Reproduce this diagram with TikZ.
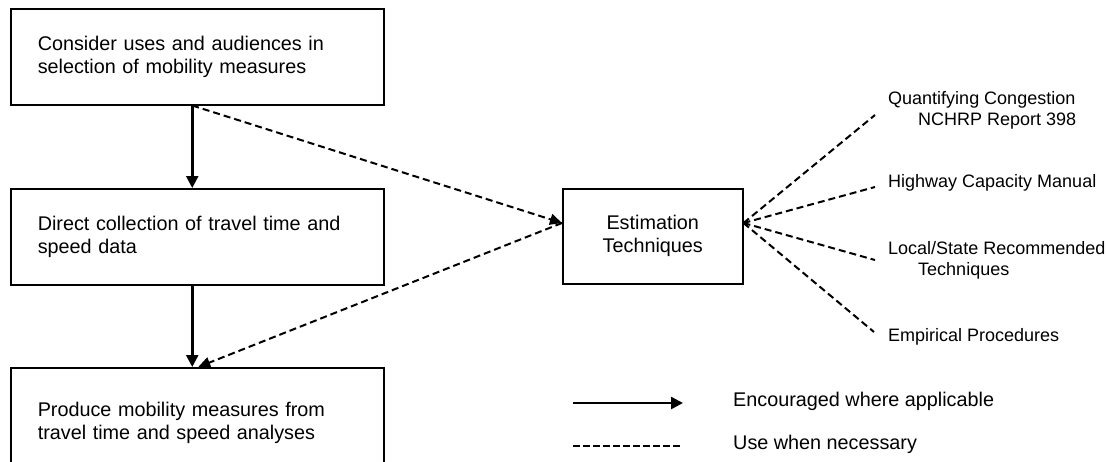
\documentclass[tikz,border=0pt]{standalone}
\usepackage{fontspec}
\setmainfont{Liberation Sans}
\usetikzlibrary{arrows.meta,calc}
\tikzset{
  stepbox/.style={draw, line width=1.5pt, anchor=north west, minimum width=373pt, minimum height=96pt,
    text width=319pt, align=left, inner xsep=27pt, inner ysep=0pt,
    font=\fontsize{19.8pt}{23pt}\selectfont},
  estbox/.style={draw, line width=1.5pt, anchor=north west, minimum width=180pt, minimum height=95pt,
    align=center, inner sep=0pt, font=\fontsize{19.8pt}{23pt}\selectfont},
  techlabel/.style={anchor=west, align=left, inner sep=0pt, font=\fontsize{18pt}{21pt}\selectfont},
  legendlabel/.style={anchor=west, inner sep=0pt, font=\fontsize{19.8pt}{23pt}\selectfont},
  solidarrow/.style={line width=2.5pt, -{Triangle[length=12pt,width=12pt]}},
  dasharrow/.style={line width=2pt, dash pattern=on 7pt off 4pt, -{Triangle[length=12pt,width=11pt]}},
  dashline/.style={line width=2pt, dash pattern=on 7pt off 4pt},
}
\begin{document}
\begin{tikzpicture}[x=1pt,y=-1pt]
\clip (0,0) rectangle (1107,461);
\fill[white] (0,0) rectangle (1107,461);

\node[stepbox] (box1) at (10,8) {Consider uses and audiences in\\selection of mobility measures};
\node[stepbox] (box2) at (10,188) {Direct collection of travel time and\\speed data};
\node[stepbox, minimum height=110pt] (box3) at (10,367) {Produce mobility measures from\\travel time and speed analyses};

\node[estbox] (est) at (562,188) {Estimation\\Techniques};
\coordinate (estin) at ([yshift=-35pt]est.north west);
\coordinate (estout) at ([yshift=-35pt]est.north east);

\coordinate (b1s) at ([xshift=-5pt]box1.south);
\coordinate (b2n) at ([xshift=-5pt]box2.north);
\coordinate (b2s) at ([xshift=-5pt]box2.south);
\coordinate (b3n) at ([xshift=-5pt]box3.north);
\coordinate (b3nd) at ([xshift=1pt]box3.north);

\draw[solidarrow] (b1s) -- (b2n);
\draw[solidarrow] (b2s) -- (b3n);
\draw[dasharrow] (b1s) -- (estin);
\draw[dasharrow] (estin) -- (b3nd);

\coordinate (q) at (875,115);
\coordinate (h) at (875,187);
\coordinate (l) at (875,260);
\coordinate (e) at (874,332);
\draw[dashline] (estout) -- (q);
\draw[dashline] (estout) -- (h);
\draw[dashline] (estout) -- (l);
\draw[dashline] (estout) -- (e);

\node[techlabel] (tq) at (888,110) {Quantifying Congestion\\\hspace*{30pt}NCHRP Report 398};
\node[techlabel] (th) at (888,183) {Highway Capacity Manual};
\node[techlabel] (tl) at (888,260) {Local/State Recommended\\\hspace*{30pt}Techniques};
\node[techlabel] (te) at (888,337) {Empirical Procedures};

\coordinate (ls1) at (573,403);
\coordinate (ls2) at (683,403);
\coordinate (ld1) at (573,446);
\coordinate (ld2) at (680,446);
\draw[solidarrow] (ls1) -- (ls2);
\draw[dashline, dash pattern=on 6.5pt off 3.5pt] (ld1) -- (ld2);
\node[legendlabel] (lt1) at (733,401) {Encouraged where applicable};
\node[legendlabel] (lt2) at (733,444) {Use when necessary};
\end{tikzpicture}
\end{document}
